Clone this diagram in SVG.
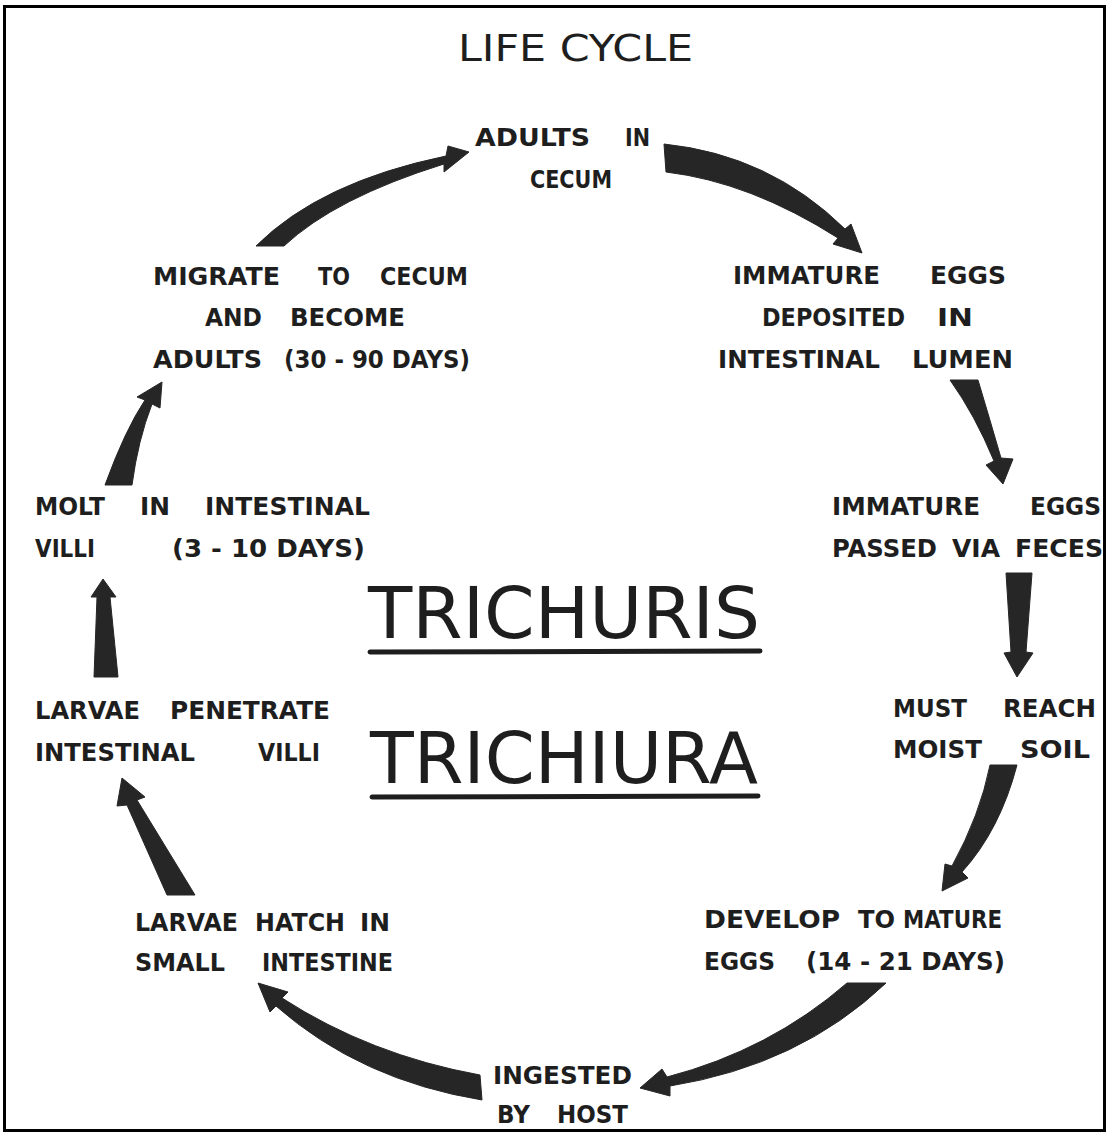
<svg xmlns="http://www.w3.org/2000/svg" width="1109" height="1135" viewBox="0 0 1109 1135">
<style>
.lb{font-family:"DejaVu Sans","Liberation Sans",sans-serif;font-size:25px;font-weight:bold;fill:#1e1e1e}
.big{font-family:"DejaVu Sans","Liberation Sans",sans-serif;font-size:72px;fill:#1e1e1e}
.ttl{font-family:"DejaVu Sans Condensed","DejaVu Sans","Liberation Sans",sans-serif;font-size:38px;fill:#1e1e1e}
.ar{fill:#262626;stroke:#262626;stroke-width:1;stroke-linejoin:round}
.ul{stroke:#1e1e1e;stroke-width:5;stroke-linecap:round}
</style>
<rect x="0" y="0" width="1109" height="1135" fill="#fff"/>
<rect x="4.5" y="6.5" width="1100" height="1124" fill="none" stroke="#000" stroke-width="3"/>
<g id="title"><text class="ttl" x="458" y="61" textLength="235" lengthAdjust="spacingAndGlyphs">LIFE CYCLE</text></g>
<g id="species">
<text class="big" x="368" y="638" textLength="392" lengthAdjust="spacingAndGlyphs">TRICHURIS</text>
<line class="ul" x1="370" y1="652" x2="760" y2="651"/>
<text class="big" x="370" y="783" textLength="388" lengthAdjust="spacingAndGlyphs">TRICHIURA</text>
<line class="ul" x1="372" y1="797" x2="758" y2="796"/>
</g>
<g id="n-adults">
<text class="lb" x="475" y="146" textLength="115" lengthAdjust="spacingAndGlyphs">ADULTS</text>
<text class="lb" x="625" y="146" textLength="25" lengthAdjust="spacingAndGlyphs">IN</text>
<text class="lb" x="530" y="188" textLength="82" lengthAdjust="spacingAndGlyphs">CECUM</text>
</g>
<g id="n-deposited">
<text class="lb" x="733" y="284" textLength="147" lengthAdjust="spacingAndGlyphs">IMMATURE</text>
<text class="lb" x="930" y="284" textLength="76" lengthAdjust="spacingAndGlyphs">EGGS</text>
<text class="lb" x="762" y="326" textLength="143" lengthAdjust="spacingAndGlyphs">DEPOSITED</text>
<text class="lb" x="937" y="326" textLength="36" lengthAdjust="spacingAndGlyphs">IN</text>
<text class="lb" x="718" y="368" textLength="162" lengthAdjust="spacingAndGlyphs">INTESTINAL</text>
<text class="lb" x="912" y="368" textLength="101" lengthAdjust="spacingAndGlyphs">LUMEN</text>
</g>
<g id="n-passed">
<text class="lb" x="832" y="515" textLength="148" lengthAdjust="spacingAndGlyphs">IMMATURE</text>
<text class="lb" x="1030" y="515" textLength="71" lengthAdjust="spacingAndGlyphs">EGGS</text>
<text class="lb" x="832" y="557" textLength="105" lengthAdjust="spacingAndGlyphs">PASSED</text>
<text class="lb" x="952" y="557" textLength="48" lengthAdjust="spacingAndGlyphs">VIA</text>
<text class="lb" x="1015" y="557" textLength="88" lengthAdjust="spacingAndGlyphs">FECES</text>
</g>
<g id="n-soil">
<text class="lb" x="893" y="717" textLength="74" lengthAdjust="spacingAndGlyphs">MUST</text>
<text class="lb" x="1003" y="717" textLength="93" lengthAdjust="spacingAndGlyphs">REACH</text>
<text class="lb" x="893" y="758" textLength="89" lengthAdjust="spacingAndGlyphs">MOIST</text>
<text class="lb" x="1020" y="758" textLength="70" lengthAdjust="spacingAndGlyphs">SOIL</text>
</g>
<g id="n-mature">
<text class="lb" x="704" y="928" textLength="136" lengthAdjust="spacingAndGlyphs">DEVELOP</text>
<text class="lb" x="858" y="928" textLength="37" lengthAdjust="spacingAndGlyphs">TO</text>
<text class="lb" x="903" y="928" textLength="99" lengthAdjust="spacingAndGlyphs">MATURE</text>
<text class="lb" x="704" y="970" textLength="71" lengthAdjust="spacingAndGlyphs">EGGS</text>
<text class="lb" x="806" y="970" textLength="199" lengthAdjust="spacingAndGlyphs">(14 - 21 DAYS)</text>
</g>
<g id="n-ingested">
<text class="lb" x="493" y="1084" textLength="139" lengthAdjust="spacingAndGlyphs">INGESTED</text>
<text class="lb" x="497" y="1123" textLength="33" lengthAdjust="spacingAndGlyphs">BY</text>
<text class="lb" x="557" y="1123" textLength="71" lengthAdjust="spacingAndGlyphs">HOST</text>
</g>
<g id="n-hatch">
<text class="lb" x="135" y="931" textLength="103" lengthAdjust="spacingAndGlyphs">LARVAE</text>
<text class="lb" x="255" y="931" textLength="90" lengthAdjust="spacingAndGlyphs">HATCH</text>
<text class="lb" x="360" y="931" textLength="30" lengthAdjust="spacingAndGlyphs">IN</text>
<text class="lb" x="135" y="971" textLength="90" lengthAdjust="spacingAndGlyphs">SMALL</text>
<text class="lb" x="262" y="971" textLength="131" lengthAdjust="spacingAndGlyphs">INTESTINE</text>
</g>
<g id="n-penetrate">
<text class="lb" x="35" y="719" textLength="105" lengthAdjust="spacingAndGlyphs">LARVAE</text>
<text class="lb" x="170" y="719" textLength="160" lengthAdjust="spacingAndGlyphs">PENETRATE</text>
<text class="lb" x="35" y="761" textLength="160" lengthAdjust="spacingAndGlyphs">INTESTINAL</text>
<text class="lb" x="258" y="761" textLength="62" lengthAdjust="spacingAndGlyphs">VILLI</text>
</g>
<g id="n-molt">
<text class="lb" x="35" y="515" textLength="70" lengthAdjust="spacingAndGlyphs">MOLT</text>
<text class="lb" x="140" y="515" textLength="30" lengthAdjust="spacingAndGlyphs">IN</text>
<text class="lb" x="205" y="515" textLength="165" lengthAdjust="spacingAndGlyphs">INTESTINAL</text>
<text class="lb" x="35" y="557" textLength="60" lengthAdjust="spacingAndGlyphs">VILLI</text>
<text class="lb" x="172" y="557" textLength="193" lengthAdjust="spacingAndGlyphs">(3 - 10 DAYS)</text>
</g>
<g id="n-migrate">
<text class="lb" x="153" y="285" textLength="127" lengthAdjust="spacingAndGlyphs">MIGRATE</text>
<text class="lb" x="318" y="285" textLength="32" lengthAdjust="spacingAndGlyphs">TO</text>
<text class="lb" x="380" y="285" textLength="88" lengthAdjust="spacingAndGlyphs">CECUM</text>
<text class="lb" x="205" y="326" textLength="57" lengthAdjust="spacingAndGlyphs">AND</text>
<text class="lb" x="290" y="326" textLength="115" lengthAdjust="spacingAndGlyphs">BECOME</text>
<text class="lb" x="153" y="368" textLength="109" lengthAdjust="spacingAndGlyphs">ADULTS</text>
<text class="lb" x="284" y="368" textLength="186" lengthAdjust="spacingAndGlyphs">(30 - 90 DAYS)</text>
</g>
<g id="connectors">
<path class="ar" d="M256,246 Q320,182 446,156 L448,146 L469,152 L444,172 L444,164 Q335,198 284,246 Z"/>
<path class="ar" d="M664,144 Q770,155 845,229 L851,224 L862,253 L833,244 L838,238 Q750,182 666,172 Z"/>
<path class="ar" d="M950,380 L978,380 Q990,420 1001,458 L1013,459 L1003,484 L986,465 L994,461 Q975,415 950,380 Z"/>
<path class="ar" d="M1006,573 L1032,573 L1026,652 L1033,653 L1017,677 L1004,653 L1011,652 Z"/>
<path class="ar" d="M990,765 L1017,765 Q1000,830 962,872 L968,878 L942,891 L945,864 L952,866 Q980,815 990,765 Z"/>
<path class="ar" d="M847,983 L886,983 Q800,1065 670,1086 L670,1096 L640,1088 L662,1069 L667,1077 Q770,1050 847,983 Z"/>
<path class="ar" d="M258,983 L288,992 L282,998 Q370,1055 480,1075 L482,1100 Q360,1080 276,1006 L270,1012 Z"/>
<path class="ar" d="M122,778 L145,797 L137,800 L195,895 L167,895 L127,805 L117,806 Z"/>
<path class="ar" d="M103,579 L116,597 L110,597 L118,677 L94,677 L97,597 L91,597 Z"/>
<path class="ar" d="M162,382 L160,408 L152,404 Q138,440 132,485 L105,485 Q125,430 145,400 L137,397 Z"/>
</g>
</svg>
